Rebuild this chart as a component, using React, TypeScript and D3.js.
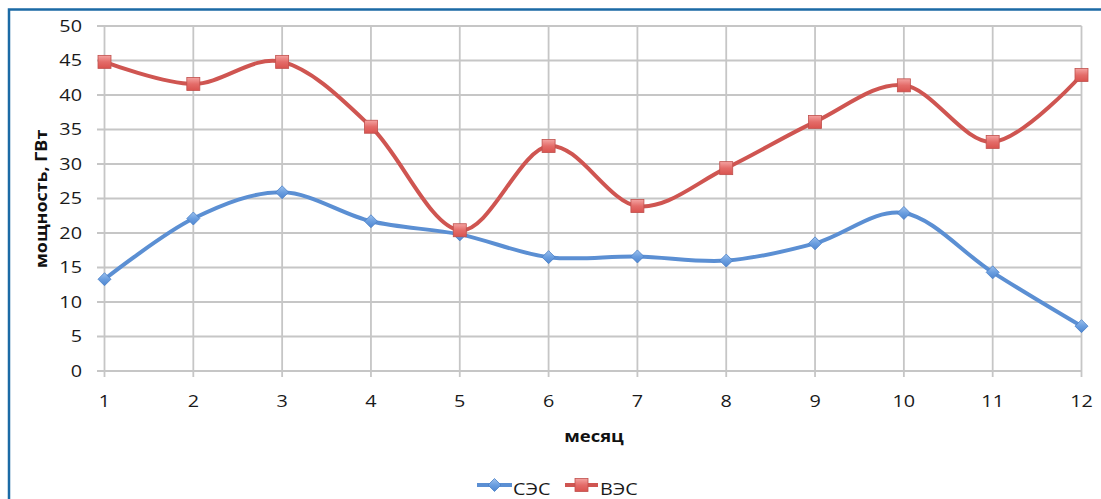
import React from "react";
import * as d3 from "d3";

const months = [1, 2, 3, 4, 5, 6, 7, 8, 9, 10, 11, 12];
const sesValues = [13.3, 22.1, 25.9, 21.7, 19.8, 16.5, 16.6, 16.0, 18.5, 22.9, 14.3, 6.5];
const vesValues = [44.8, 41.6, 44.8, 35.4, 20.4, 32.6, 23.9, 29.4, 36.1, 41.4, 33.2, 42.9];
const yTicks = [0, 5, 10, 15, 20, 25, 30, 35, 40, 45, 50];
const seriesNames = ["СЭС", "ВЭС"];

const W = 1101;
const H = 499;
const FONT = "'Open Sans', 'Liberation Sans', sans-serif";
const SX = 1.2;

function T(props: {
  x: number;
  y: number;
  anchor?: string;
  size?: number;
  bold?: boolean;
  rotate?: number;
  sx?: number;
  children: React.ReactNode;
}) {
  const { x, y, anchor = "start", size = 16.5, bold = false, rotate = 0, sx = SX, children } = props;
  return (
    <text
      transform={`translate(${x},${y}) rotate(${rotate}) scale(${sx},1)`}
      dy="0.35em"
      textAnchor={anchor}
      fontFamily={FONT}
      fontWeight={bold ? "bold" : "normal"}
      fontSize={size}
      fill={bold ? "#111" : "#1a1a1a"}
    >
      {children}
    </text>
  );
}

export default function App() {
  const x = d3.scaleLinear().domain([1, 12]).range([104.5, 1081.5]);
  const y = d3.scaleLinear().domain([0, 50]).range([371, 26]);
  const line = d3
    .line<number>()
    .x((_, i) => x(months[i]))
    .y((d) => y(d))
    .curve(d3.curveCardinal.tension(0));

  const blue = "#5B8FD3";
  const red = "#CF5551";
  const sq = 13;

  const diamond = (cx: number, cy: number, r: number) =>
    `M${cx},${cy - r}L${cx + r},${cy}L${cx},${cy + r}L${cx - r},${cy}Z`;

  return (
    <svg
      width={W}
      height={H}
      style={{ position: "fixed", left: 0, top: 0, background: "#fff" }}
    >
      <defs>
        <linearGradient id="gRed" x1="0" y1="0" x2="0" y2="1">
          <stop offset="0" stopColor="#F4A3A1" />
          <stop offset="0.5" stopColor="#E46C69" />
          <stop offset="1" stopColor="#D9534F" />
        </linearGradient>
        <linearGradient id="gBlue" x1="0" y1="0" x2="0" y2="1">
          <stop offset="0" stopColor="#9CC0EC" />
          <stop offset="0.5" stopColor="#6A9EE0" />
          <stop offset="1" stopColor="#4F86CF" />
        </linearGradient>
      </defs>
      {/* frame */}
      <path d={`M9,${H}L9,9.5L${W},9.5`} fill="none" stroke="#1B6AA5" strokeWidth={2.5} />

      {/* grid */}
      {yTicks.map((t) => (
        <line
          key={"h" + t}
          x1={97}
          x2={x(12)}
          y1={y(t)}
          y2={y(t)}
          stroke="#C6C6C6"
          strokeWidth={1.8}
        />
      ))}
      {months.map((m) => (
        <line
          key={"v" + m}
          x1={x(m)}
          x2={x(m)}
          y1={y(50)}
          y2={y(0) + 6}
          stroke="#C6C6C6"
          strokeWidth={1.8}
        />
      ))}

      {/* y tick labels */}
      {yTicks.map((t) => (
        <T key={"yl" + t} x={82} y={y(t)} anchor="end">
          {t}
        </T>
      ))}
      {/* x tick labels */}
      {months.map((m) => (
        <T key={"xl" + m} x={x(m)} y={401.5} anchor="middle">
          {m}
        </T>
      ))}

      {/* axis titles */}
      <T x={41} y={199} anchor="middle" bold size={16} rotate={-90} sx={1.12}>
        мощность, ГВт
      </T>
      <T x={594} y={436.5} anchor="middle" bold size={16.5} sx={1.12}>
        месяц
      </T>

      {/* series lines */}
      <path d={line(sesValues) || ""} fill="none" stroke={blue} strokeWidth={4} strokeLinejoin="round" />
      <path d={line(vesValues) || ""} fill="none" stroke={red} strokeWidth={4} strokeLinejoin="round" />

      {/* markers */}
      {sesValues.map((v, i) => (
        <path
          key={"sm" + i}
          d={diamond(x(months[i]), y(v), 6.5)}
          fill="url(#gBlue)"
          stroke="#4A80C8"
          strokeWidth={0.8}
        />
      ))}
      {vesValues.map((v, i) => (
        <rect
          key={"vm" + i}
          x={x(months[i]) - sq / 2}
          y={y(v) - sq / 2}
          width={sq}
          height={sq}
          fill="url(#gRed)"
          stroke="#C0504D"
          strokeWidth={0.8}
        />
      ))}

      {/* legend */}
      <g>
        <line x1={477} x2={512} y1={485} y2={485} stroke={blue} strokeWidth={4} />
        <path d={diamond(494.5, 485, 6.5)} fill="url(#gBlue)" stroke="#4A80C8" strokeWidth={0.8} />
        <T x={513} y={489}>{seriesNames[0]}</T>
        <line x1={565} x2={598} y1={485} y2={485} stroke={red} strokeWidth={4} />
        <rect x={581.5 - sq / 2} y={485 - sq / 2} width={sq} height={sq} fill="url(#gRed)" stroke="#C0504D" strokeWidth={0.8} />
        <T x={600} y={489}>{seriesNames[1]}</T>
      </g>
    </svg>
  );
}
